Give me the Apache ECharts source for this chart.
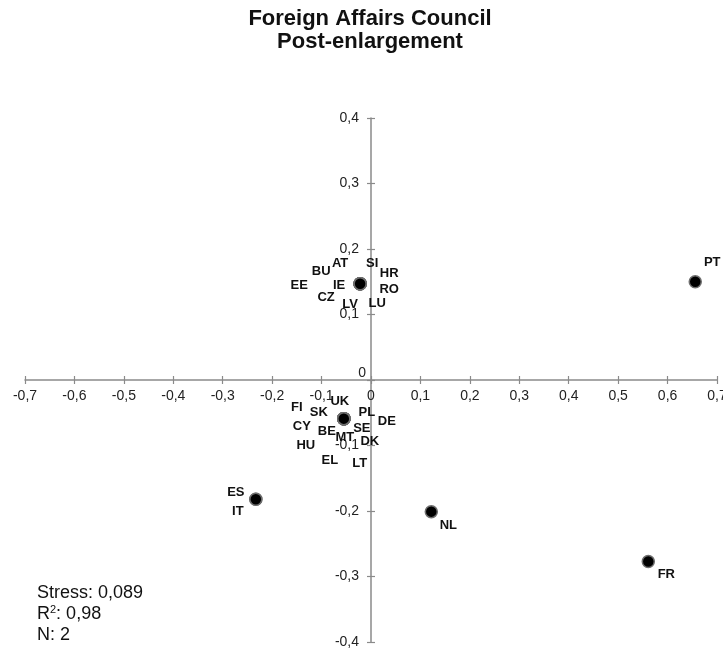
<!DOCTYPE html>
<html>
<head>
<meta charset="utf-8">
<script src="https://cdn.jsdelivr.net/npm/echarts@6/dist/echarts.min.js"></script>
<style>html,body{margin:0;padding:0;background:#fff}#c{width:723px;height:648px}</style>
</head>
<body>
<div id="c"></div>
<script>
const countries = ['AT','BU','EE','IE','CZ','LV','SI','HR','RO','LU',
  'UK','FI','SK','PL','DE','CY','BE','SE','MT','DK','HU','EL','LT',
  'ES','IT','NL','FR','PT'];
const dim1 = [-0.022,-0.022,-0.022,-0.022,-0.022,-0.022,-0.022,-0.022,-0.022,-0.022,
  -0.055,-0.055,-0.055,-0.055,-0.055,-0.055,-0.055,-0.055,-0.055,-0.055,-0.055,-0.055,-0.055,
  -0.233,-0.233,0.122,0.561,0.656];
const dim2 = [0.147,0.147,0.147,0.147,0.147,0.147,0.147,0.147,0.147,0.147,
  -0.059,-0.059,-0.059,-0.059,-0.059,-0.059,-0.059,-0.059,-0.059,-0.059,-0.059,-0.059,-0.059,
  -0.182,-0.182,-0.201,-0.277,0.150];
const xTicks = {min:-0.7, max:0.7, step:0.1};
const yTicks = {min:-0.4, max:0.4, step:0.1};
const statsLines = ['Stress: 0,089', 'R{sup|2}: 0,98', 'N: 2'];
const titleLines = ['Foreign Affairs Council', 'Post-enlargement'];

// label layout (pixel offsets of each country label from its point)
const labelOffset = {
  AT:[-20,-20], BU:[-39,-12], EE:[-61,2], IE:[-21,2], CZ:[-34,14], LV:[-10,21],
  SI:[12,-20], HR:[29,-10], RO:[29,6], LU:[17,20],
  UK:[-4,-17], FI:[-47,-11], SK:[-25,-6], PL:[23,-6], DE:[43,3], CY:[-42,8],
  BE:[-17,13], SE:[18,10], MT:[1,19], DK:[26,23], HU:[-38,27], EL:[-14,42], LT:[16,45],
  ES:[-20,-7], IT:[-18,12], NL:[17,14], FR:[18,13], PT:[17,-19]
};

const W = 723, H = 648;
const G = {left: 25, right: 6, top: 118, bottom: 6};
const gridW = W - G.left - G.right, gridH = H - G.top - G.bottom;
// shift label-carrying axes from grid edge to the zero lines
const xLabelOffset = -gridH * (0 - yTicks.min) / (yTicks.max - yTicks.min);
const yLabelOffset = -gridW * (0 - xTicks.min) / (xTicks.max - xTicks.min);

const fmt = v => { const r = Math.round(v*10)/10; return (r === 0 ? '0' : String(r)).replace('.', ','); };
const axisColor = '#8a8a8a';
const FONT = '"Liberation Sans", Arial, sans-serif';

const data = countries.map((c, i) => ({ name: c, value: [dim1[i], dim2[i]] }));

const lineStyle = {color: axisColor, width: 1.5};
const tickStyle = {color: axisColor, width: 1.2};

const chart = echarts.init(document.getElementById('c'));
chart.setOption({
  animation: false,
  backgroundColor: '#fff',
  grid: Object.assign({containLabel: false, outerBoundsMode: 'none'}, G),
  xAxis: [
    {
      type: 'value', min: xTicks.min, max: xTicks.max, interval: xTicks.step,
      position: 'bottom', offset: xLabelOffset,
      splitLine: {show: false},
      axisLine: {show: true, onZero: false, lineStyle: lineStyle},
      axisTick: {show: true, inside: false, length: 4, lineStyle: tickStyle},
      axisLabel: {formatter: fmt, margin: 9, fontSize: 14, color: '#222', fontFamily: FONT,
        showMinLabel: true, showMaxLabel: true}
    },
    {
      type: 'value', min: xTicks.min, max: xTicks.max, interval: xTicks.step,
      position: 'bottom',
      splitLine: {show: false},
      axisLine: {show: false, onZero: true, onZeroAxisIndex: 0},
      axisTick: {show: true, inside: true, length: 4, lineStyle: tickStyle},
      axisLabel: {show: false}
    }
  ],
  yAxis: [
    {
      type: 'value', min: yTicks.min, max: yTicks.max, interval: yTicks.step,
      position: 'left', offset: yLabelOffset,
      splitLine: {show: false},
      axisLine: {show: true, onZero: false, lineStyle: lineStyle},
      axisTick: {show: true, inside: false, length: 4, lineStyle: tickStyle},
      axisLabel: {
        formatter: v => Math.abs(v) < 1e-9 ? '{z|0}' : fmt(v),
        margin: 12, fontSize: 14, color: '#222', fontFamily: FONT,
        showMinLabel: true, showMaxLabel: true,
        rich: {z: {fontSize: 14, color: '#222', fontFamily: FONT, padding: [0, -7, 14, 0]}}
      }
    },
    {
      type: 'value', min: yTicks.min, max: yTicks.max, interval: yTicks.step,
      position: 'left',
      splitLine: {show: false},
      axisLine: {show: false, onZero: true, onZeroAxisIndex: 0},
      axisTick: {show: true, inside: true, length: 4, lineStyle: tickStyle},
      axisLabel: {show: false}
    }
  ],
  series: [{
    type: 'scatter',
    xAxisIndex: 0, yAxisIndex: 0,
    symbol: 'circle',
    symbolSize: 12,
    itemStyle: {color: '#000', borderColor: '#6e6e6e', borderWidth: 1.5, opacity: 1},
    label: {
      show: true, position: 'inside', formatter: '{b}',
      fontSize: 13, fontWeight: 'bold', color: '#111', fontFamily: FONT,
      align: 'center', verticalAlign: 'middle'
    },
    labelLayout: function (p) {
      const o = labelOffset[countries[p.dataIndex]] || [0, 0];
      return {dx: o[0], dy: o[1], hideOverlap: false};
    },
    emphasis: {disabled: true},
    data: data
  }],
  graphic: [
    {type: 'text', x: 370, y: 7, style: {text: titleLines.join('\n'), fontSize: 22, fontWeight: 'bold',
      fontFamily: FONT, fill: '#111', align: 'center', lineHeight: 23}},
    {type: 'text', x: 37, y: 583, style: {text: statsLines.join('\n'), fontSize: 18, fontFamily: FONT,
      fill: '#111', align: 'left', lineHeight: 21,
      rich: {sup: {fontSize: 11, verticalAlign: 'top', padding: [0, 0, 9, 0], fill: '#111', fontFamily: FONT}}}}
  ]
});
</script>
</body>
</html>
